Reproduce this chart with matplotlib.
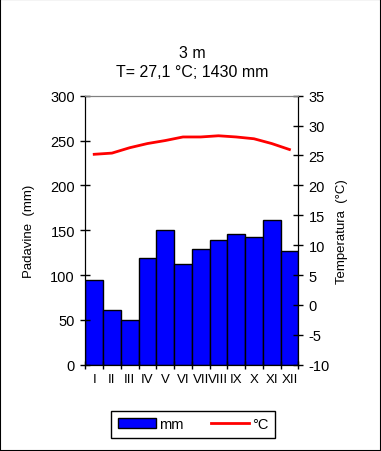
import matplotlib.pyplot as plt
import numpy as np

plt.rcParams['font.family'] = ['Liberation Sans', 'DejaVu Sans']
plt.rcParams['axes.unicode_minus'] = False

meseci = ['I', 'II', 'III', 'IV', 'V', 'VI', 'VII', 'VIII', 'IX', 'X', 'XI', 'XII']
padavine = [95, 61, 50, 119, 150, 112, 129, 139, 146, 142, 161, 127]
temperatura = [25.2, 25.4, 26.3, 27.0, 27.5, 28.1, 28.1, 28.3, 28.1, 27.8, 27.0, 26.0]

fig = plt.figure(figsize=(3.81, 4.52), dpi=100)
# okvir oko cele slike
fig.patches.append(plt.Rectangle((0, 0), 1, 1, transform=fig.transFigure,
                                 fill=False, edgecolor='black', linewidth=1.5))

ax = fig.add_axes([0.224, 0.191, 0.559, 0.595])
x = np.arange(1, 13)
bars = ax.bar(x, padavine, width=1.0, color='#0000ff', edgecolor='black',
              linewidth=1, label='mm')
ax.set_xlim(0.5, 12.5)
ax.set_ylim(0, 300)
ax.set_yticks(range(0, 301, 50))
ax.set_xticks(np.arange(0.5, 13, 1), minor=False)
ax.set_xticklabels([])
ax.set_xticks(x, minor=True)
ax.set_xticklabels(meseci, minor=True)
ax.tick_params(axis='x', which='major', direction='inout', length=6, width=1)
ax.tick_params(axis='x', which='minor', length=0, pad=6, labelsize=9.5)
ax.tick_params(axis='y', direction='inout', length=7, width=1, labelsize=10.5, pad=4)
ax.set_ylabel('Padavine  (mm)', fontsize=9.5, labelpad=11)
ax.spines['top'].set_color('gray')
for s in ['left', 'bottom', 'right']:
    ax.spines[s].set_color('black')

ax2 = ax.twinx()
linija, = ax2.plot(x, temperatura, color='red', linewidth=2, label='°C')
ax2.set_ylim(-10, 35)
ax2.set_yticks(range(-10, 36, 5))
ax2.tick_params(axis='y', direction='inout', length=7, width=1, labelsize=10.5, pad=4)
ax2.set_ylabel('Temperatura  (°C)', fontsize=9.5, labelpad=4)
ax2.spines['top'].set_color('gray')

fig.text(0.505, 0.881, '3 m', ha='center', va='center', fontsize=11.5)
fig.text(0.505, 0.839, 'T= 27,1 °C; 1430 mm', ha='center', va='center', fontsize=11.5)

leg = fig.legend(handles=[bars, linija], labels=['mm', '°C'], ncol=2,
                 loc='center', bbox_to_anchor=(0.507, 0.059), fontsize=10.5,
                 frameon=True, fancybox=False, edgecolor='black', framealpha=1,
                 handlelength=2.6, handletextpad=0.2, columnspacing=1.9,
                 borderpad=0.45)
leg.get_frame().set_linewidth(1)

fig.savefig('out.png', dpi=100)
